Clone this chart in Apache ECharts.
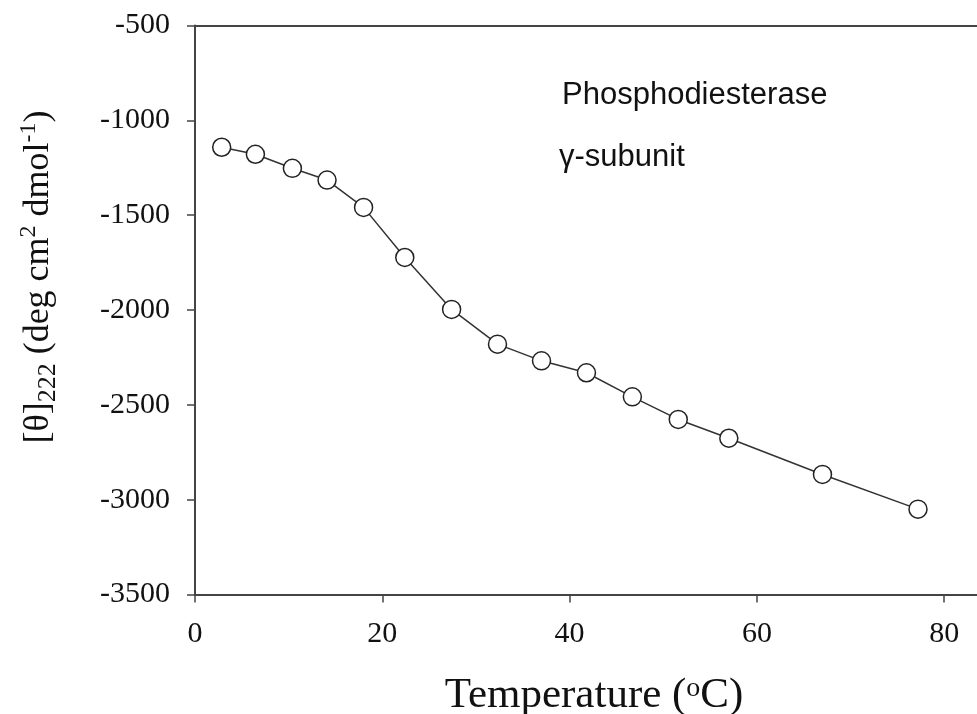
<!DOCTYPE html>
<html>
<head>
<meta charset="utf-8">
<script src="https://cdn.jsdelivr.net/npm/echarts@6/dist/echarts.min.js"></script>
<style>html,body{margin:0;padding:0;background:#fff;}#c{width:977px;height:714px;}</style>
</head>
<body>
<div id="c"></div>
<script>
const temperature = [2.85, 6.45, 10.4, 14.1, 18.0, 22.4, 27.4, 32.3, 37.0, 41.8, 46.7, 51.6, 57.0, 67.0, 77.2];
const theta222 = [-1142, -1179, -1253, -1315, -1459, -1723, -1997, -2180, -2268, -2331, -2458, -2577, -2676, -2867, -3050];
const xTicks = [0, 20, 40, 60, 80];
const yTicks = [-3500, -3000, -2500, -2000, -1500, -1000, -500];
const annotation = ['Phosphodiesterase', 'γ-subunit'];

const chart = echarts.init(document.getElementById('c'), null, {renderer: 'canvas'});
const serif = '"Liberation Serif", "Times New Roman", serif';
const axisCol = '#444';
chart.setOption({
  animation: false,
  backgroundColor: '#fff',
  grid: {left: 195, top: 25.5, right: 0, bottom: 119.5, containLabel: false, outerBoundsMode: 'none'},
  xAxis: [{
    type: 'value', min: xTicks[0], max: 83.5, interval: 20, position: 'bottom',
    axisLine: {show: true, onZero: false, lineStyle: {color: axisCol, width: 2}},
    axisTick: {show: true, inside: false, length: 8, lineStyle: {color: axisCol, width: 1.5}},
    axisLabel: {show: true, margin: 25, fontFamily: serif, fontSize: 30, color: '#111', showMaxLabel: false,
      formatter: v => xTicks.includes(v) ? String(v) : ''},
    splitLine: {show: false},
    name: 'Temperature ({s|o}C)', nameLocation: 'middle', nameGap: 80,
    nameTextStyle: {fontFamily: serif, fontSize: 43, color: '#111', padding: [0, 0, 0, 16],
      rich: {s: {fontFamily: serif, fontSize: 28, verticalAlign: 'top', lineHeight: 22}}}
  }, {
    type: 'value', min: xTicks[0], max: 83.5, position: 'top',
    axisLine: {show: true, onZero: false, lineStyle: {color: axisCol, width: 2}},
    axisTick: {show: false}, axisLabel: {show: false}, splitLine: {show: false}
  }],
  yAxis: {
    type: 'value', min: yTicks[0], max: yTicks[yTicks.length - 1], interval: 500,
    axisLine: {show: true, onZero: false, lineStyle: {color: axisCol, width: 2}},
    axisTick: {show: true, inside: false, length: 8, lineStyle: {color: axisCol, width: 1.5}},
    axisLabel: {margin: 25, fontFamily: serif, fontSize: 30, color: '#111', formatter: v => String(v)},
    splitLine: {show: false},
    name: '[θ]{sub|222} (deg cm{sup|2} dmol{sup|-1})', nameLocation: 'middle', nameGap: 134, nameRotate: 90,
    nameTextStyle: {fontFamily: serif, fontSize: 36, color: '#111', lineHeight: 44, padding: [0, 0, 0, 66],
      rich: {
        sub: {fontFamily: serif, fontSize: 26, verticalAlign: 'bottom', lineHeight: 22},
        sup: {fontFamily: serif, fontSize: 24, verticalAlign: 'top', lineHeight: 20}
      }}
  },
  series: [{
    type: 'line',
    xAxisIndex: 0,
    data: temperature.map((t, i) => [t, theta222[i]]),
    symbol: 'circle', symbolSize: 18, showSymbol: true,
    lineStyle: {color: '#333', width: 1.5},
    itemStyle: {color: '#fff', borderColor: '#222', borderWidth: 1.5},
    z: 3
  }],
  graphic: [
    {type: 'text', left: 562, top: 80, style: {text: annotation[0], font: '31px "Liberation Sans", Arial, sans-serif', fill: '#111'}},
    {type: 'text', left: 559, top: 142, style: {text: annotation[1], font: '31px "Liberation Sans", Arial, sans-serif', fill: '#111'}}
  ]
});
</script>
</body>
</html>
